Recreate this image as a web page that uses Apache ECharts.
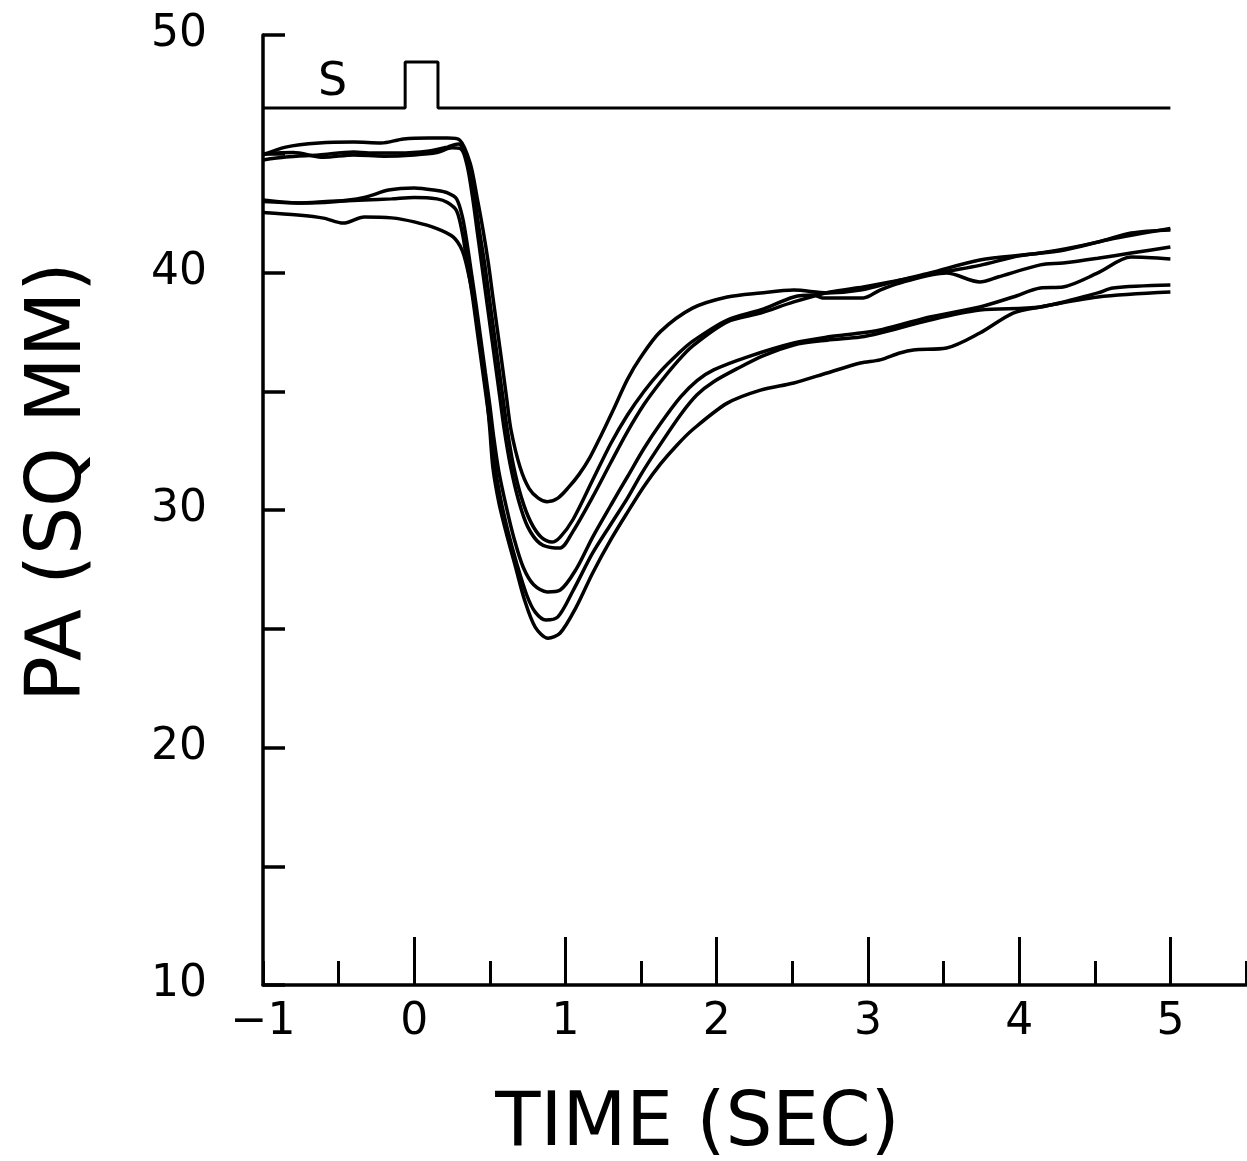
<!DOCTYPE html>
<html>
<head>
<meta charset="utf-8">
<title>PA vs TIME</title>
<script src="https://cdn.jsdelivr.net/npm/echarts@6/dist/echarts.min.js"></script>
<style>
  html, body { margin: 0; padding: 0; background: #fff; }
  #chart { width: 1247px; height: 1161px; }
</style>
</head>
<body>
<div id="chart"></div>
<script>
// Pupil area traces (time in s, area in sq mm), one array per trial
const trace1 = [[-1,44.95],[-0.85,45.28],[-0.63,45.45],[-0.4,45.49],[-0.22,45.45],[-0.07,45.62],[0.1,45.66],[0.22,45.66],[0.30,45.58],[0.37,44.6],[0.415,43.18],[0.455,41.79],[0.49,40.4],[0.52,38.97],[0.55,37.58],[0.58,36.19],[0.61,34.76],[0.64,33.37],[0.70,31.8],[0.76,30.9],[0.82,30.5],[0.88,30.35],[0.95,30.5],[1.02,30.95],[1.09,31.5],[1.163,32.23],[1.24,33.2],[1.315,34.2],[1.41,35.5],[1.494,36.4],[1.626,37.5],[1.84,38.5],[2.07,38.97],[2.29,39.14],[2.51,39.26],[2.73,39.14],[2.95,39.26],[3.21,39.68],[3.41,39.98],[3.74,40.53],[4.14,40.82],[4.52,41.28],[4.74,41.66],[5.0,41.79]];
const trace2 = [[-1,44.74],[-0.85,44.86],[-0.63,44.95],[-0.4,45.07],[-0.3,45.03],[-0.1,45.03],[0.1,45.12],[0.22,45.28],[0.29,45.41],[0.33,45.2],[0.37,44.3],[0.40,43.1],[0.43,41.8],[0.465,40.4],[0.495,39.0],[0.525,37.6],[0.555,36.2],[0.585,34.8],[0.615,33.4],[0.655,31.9],[0.71,30.5],[0.77,29.5],[0.84,28.85],[0.91,28.65],[0.965,28.86],[1.05,29.6],[1.18,31.26],[1.30,32.8],[1.41,34.0],[1.52,35.0],[1.63,35.85],[1.74,36.55],[1.84,37.1],[2.07,38.0],[2.29,38.42],[2.51,38.97],[2.64,39.05],[2.70,38.93],[2.97,38.93],[3.08,39.26],[3.21,39.56],[3.52,39.98],[3.74,39.6],[3.86,39.81],[4.14,40.32],[4.29,40.4],[4.52,40.6],[4.74,40.82],[5.0,41.07]];
const trace3 = [[-1,45.0],[-0.8,45.05],[-0.6,44.85],[-0.4,44.95],[-0.2,44.9],[0.0,44.95],[0.15,45.05],[0.25,45.25],[0.31,45.2],[0.35,44.5],[0.385,43.2],[0.415,41.8],[0.445,40.4],[0.475,39.0],[0.505,37.6],[0.535,36.2],[0.565,34.8],[0.595,33.4],[0.635,31.9],[0.69,30.4],[0.75,29.3],[0.83,28.6],[0.93,28.4],[0.965,28.4],[1.05,29.1],[1.18,30.55],[1.30,32.0],[1.41,33.3],[1.52,34.45],[1.63,35.4],[1.74,36.25],[1.84,36.9],[2.07,37.92],[2.29,38.29],[2.51,38.76],[2.75,39.18],[2.97,39.39],[3.21,39.68],[3.52,40.05],[3.74,40.3],[4.0,40.7],[4.3,40.95],[4.6,41.4],[5.0,41.85]];
const trace4 = [[-1,43.05],[-0.77,42.93],[-0.55,42.97],[-0.33,43.16],[-0.17,43.47],[0,43.56],[0.15,43.45],[0.22,43.35],[0.28,43.1],[0.32,42.3],[0.35,41.2],[0.38,39.9],[0.41,38.6],[0.44,37.2],[0.47,35.8],[0.50,34.4],[0.525,33.1],[0.56,31.6],[0.61,30.1],[0.66,28.8],[0.72,27.6],[0.79,26.85],[0.88,26.55],[0.965,26.63],[1.07,27.5],[1.18,28.86],[1.30,30.2],[1.41,31.4],[1.52,32.6],[1.63,33.65],[1.76,34.75],[1.87,35.45],[1.98,35.9],[2.2,36.44],[2.51,37.03],[2.73,37.28],[2.95,37.45],[3.08,37.58],[3.21,37.79],[3.41,38.13],[3.74,38.55],[3.96,38.97],[4.14,39.35],[4.29,39.39],[4.52,39.98],[4.74,40.65],[5.0,40.57]];
const trace5 = [[-1,42.99],[-0.77,42.93],[-0.55,43.0],[-0.33,43.05],[-0.15,43.1],[0,43.16],[0.15,43.1],[0.22,42.95],[0.28,42.6],[0.32,41.6],[0.35,40.4],[0.385,39.0],[0.415,37.6],[0.445,36.2],[0.475,34.8],[0.505,33.4],[0.53,32.0],[0.57,30.5],[0.62,29.1],[0.68,27.7],[0.745,26.4],[0.80,25.7],[0.87,25.37],[0.95,25.5],[1.05,26.6],[1.18,28.19],[1.30,29.4],[1.41,30.5],[1.50,31.5],[1.60,32.5],[1.76,34.0],[1.87,34.85],[1.98,35.4],[2.15,36.0],[2.31,36.5],[2.51,36.95],[2.73,37.15],[2.95,37.28],[3.08,37.45],[3.41,38.0],[3.74,38.42],[4.14,38.55],[4.52,39.14],[4.62,39.35],[5.0,39.47]];
const trace6 = [[-1,42.53],[-0.77,42.42],[-0.6,42.29],[-0.47,42.08],[-0.33,42.34],[-0.15,42.3],[0,42.13],[0.15,41.85],[0.257,41.5],[0.316,40.95],[0.35,40.2],[0.39,38.97],[0.42,37.58],[0.45,36.19],[0.48,34.76],[0.50,33.37],[0.52,31.8],[0.56,30.3],[0.61,29.0],[0.67,27.6],[0.73,26.2],[0.80,25.07],[0.885,24.6],[0.965,24.82],[1.07,25.9],[1.18,27.35],[1.30,28.75],[1.41,29.9],[1.52,31.0],[1.63,31.95],[1.74,32.75],[1.844,33.4],[2.07,34.5],[2.29,35.05],[2.51,35.35],[2.73,35.77],[2.95,36.19],[3.08,36.32],[3.21,36.61],[3.30,36.74],[3.52,36.82],[3.74,37.45],[3.96,38.29],[4.14,38.55],[4.52,38.97],[5.0,39.18]];

// Stimulus marker trace (pulse at flash onset)
const stimulus = [[-1,46.93],[-0.06,46.93],[-0.06,48.86],[0.157,48.86],[0.157,46.93],[5.0,46.93]];
const stimulusLabel = [[-0.54,47.98]];

// Axis ticks and labels
const xMajorTicks = [0, 1, 2, 3, 4, 5];
const xTickLabels = [-1, 0, 1, 2, 3, 4, 5];
const yTickLabels = [10, 20, 30, 40, 50];

const FONT = 'DejaVu Sans';
const INK = '#000';

const traces = [trace1, trace2, trace3, trace4, trace5, trace6];

const chart = echarts.init(document.getElementById('chart'), null, { renderer: 'canvas' });

const traceSeries = traces.map((d, i) => ({
  name: 'trial ' + (i + 1),
  type: 'line',
  data: d,
  smooth: 0.3,
  showSymbol: false,
  symbol: 'none',
  lineStyle: { color: INK, width: 3.5 },
  z: 3
}));

chart.setOption({
  backgroundColor: '#fff',
  animation: false,
  grid: { left: 263, top: 35, right: 1, bottom: 176, outerBoundsMode: 'none', containLabel: false },
  xAxis: [
    {
      type: 'value', min: -1, max: 5.5, interval: 0.5, position: 'bottom',
      axisLine: { show: true, onZero: false, lineStyle: { color: INK, width: 3.5 } },
      axisTick: { show: true, inside: true, length: 24, lineStyle: { color: INK, width: 3 } },
      axisLabel: {
        color: INK, fontFamily: FONT, fontSize: 44, margin: 16,
        formatter: v => xTickLabels.includes(v) ? (v < 0 ? '\u2212' + Math.abs(v) : String(v)) : ''
      },
      splitLine: { show: false },
      name: 'TIME (SEC)', nameLocation: 'middle', nameGap: 104,
      nameTextStyle: { color: INK, fontFamily: FONT, fontSize: 74, padding: [0, 114, 0, 0] }
    },
    {
      type: 'value', min: -1, max: 5.5, position: 'bottom',
      axisLine: { show: false, onZero: false },
      axisTick: { show: true, inside: true, length: 48, customValues: xMajorTicks, lineStyle: { color: INK, width: 3 } },
      axisLabel: { show: false },
      splitLine: { show: false }
    }
  ],
  yAxis: {
    type: 'value', min: 10, max: 50, interval: 5,
    axisLine: { show: true, onZero: false, lineStyle: { color: INK, width: 3.5 } },
    axisTick: { show: true, inside: true, length: 22, lineStyle: { color: INK, width: 3.5 } },
    axisLabel: {
      color: INK, fontFamily: FONT, fontSize: 44, margin: 56,
      formatter: v => yTickLabels.includes(v) ? String(v) : ''
    },
    splitLine: { show: false },
    name: 'PA (SQ MM)', nameLocation: 'middle', nameRotate: 90, nameGap: 165,
    nameTextStyle: { color: INK, fontFamily: FONT, fontSize: 76, padding: [0, 0, 0, 56] }
  },
  series: [
    ...traceSeries,
    {
      name: 'stimulus', type: 'line', data: stimulus, showSymbol: false, symbol: 'none',
      lineStyle: { color: INK, width: 3 }, z: 3
    },
    {
      name: 'stimulus label', type: 'scatter', data: stimulusLabel, symbolSize: 0,
      itemStyle: { color: INK, opacity: 1 },
      label: { show: true, position: 'inside', formatter: 'S', color: INK, opacity: 1, fontFamily: FONT, fontSize: 46 },
      z: 4
    }
  ]
});
</script>
</body>
</html>
